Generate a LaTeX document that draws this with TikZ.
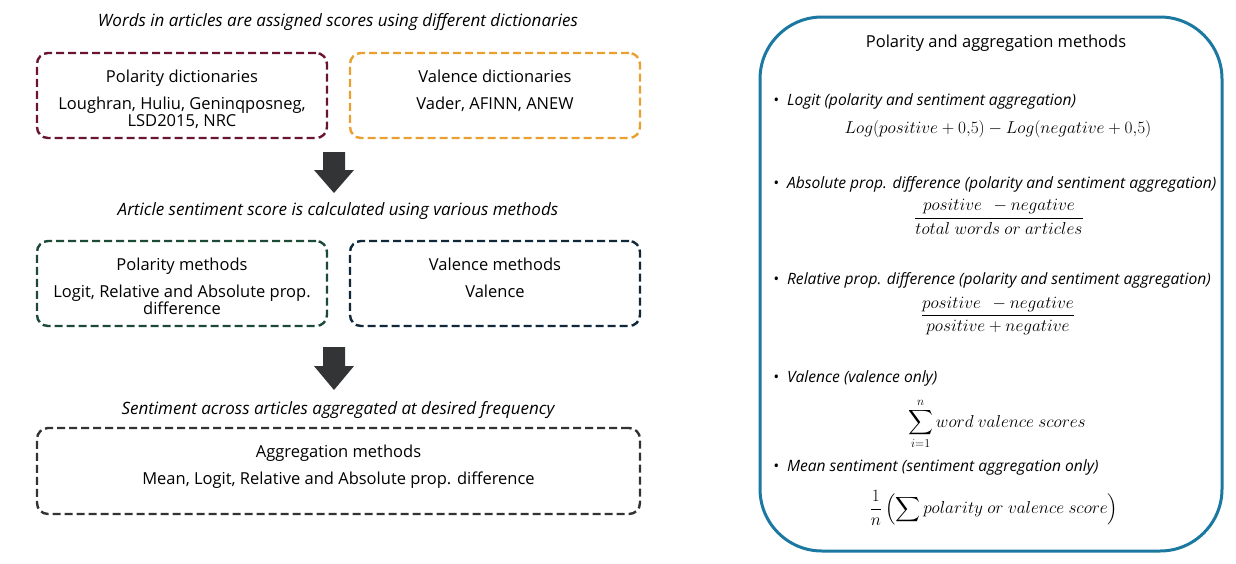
\documentclass[tikz,border=0pt]{standalone}
\usepackage{amsmath}
\usepackage{fontspec}
\setmainfont{Open Sans}
\usetikzlibrary{positioning}

\definecolor{poldict}{HTML}{6A1434}
\definecolor{valdict}{HTML}{E9A030}
\definecolor{polmeth}{HTML}{1C4A36}
\definecolor{valmeth}{HTML}{10283A}
\definecolor{aggmeth}{HTML}{333333}
\definecolor{sidecol}{HTML}{1B78A0}
\definecolor{arrowcol}{HTML}{333436}

\tikzset{
  dashbox/.style={draw, line width=2.4pt, dash pattern=on 8pt off 4pt, rounded corners=11pt,
    minimum height=85pt, inner sep=0pt},
  boxtext/.style={align=center, inner sep=0pt, font=\fontsize{16.5}{17.5}\selectfont},
  steptitle/.style={font=\fontsize{17}{19}\selectfont\itshape, inner sep=0pt},
  itemtext/.style={anchor=west, font=\fontsize{15.6}{18}\selectfont\itshape, inner sep=0pt},
  formula/.style={inner sep=0pt, font=\fontsize{17}{20}\selectfont},
}

\begin{document}
\begin{tikzpicture}[x=1pt, y=-1pt]
    \useasboundingbox (0,0) rectangle (1236,563);

    % left column
    \node[steptitle] (title1) at (338,22) {Words in articles are assigned scores using different dictionaries};

    \node[dashbox, draw=poldict, minimum width=290pt] (pdict) at (182,95.5) {};
    \node[dashbox, draw=valdict, minimum width=290pt] (vdict) at (495,95.5) {};
    \node[boxtext, below=18pt of pdict.north] {Polarity dictionaries\\[9pt] Loughran, Huliu, Geninqposneg,\\ LSD2015, NRC};
    \node[boxtext, below=18pt of vdict.north] {Valence dictionaries\\[9pt] Vader, AFINN, ANEW};

    \coordinate (arr1) at (334,152);
    \fill[arrowcol] (arr1) ++(-11,0) -- ++(22,0) -- ++(0,18) -- ++(9,0) -- (334,193) -- (314,170) -- ++(9,0) -- cycle;

    \node[steptitle] (title2) at (338,211) {Article sentiment score is calculated using various methods};

    \node[dashbox, draw=polmeth, minimum width=290pt] (pmeth) at (182,283.5) {};
    \node[dashbox, draw=valmeth, minimum width=290pt] (vmeth) at (495,283.5) {};
    \node[boxtext, below=18pt of pmeth.north] {Polarity methods\\[9pt] Logit, Relative and Absolute prop.\\ difference};
    \node[boxtext, below=18pt of vmeth.north] {Valence methods\\[9pt] Valence};

    \coordinate (arr2) at (334,347);
    \fill[arrowcol] (arr2) ++(-11,0) -- ++(22,0) -- ++(0,19) -- ++(9,0) -- (334,390) -- (314,366) -- ++(9,0) -- cycle;

    \node[steptitle] (title3) at (338,410) {Sentiment across articles aggregated at desired frequency};

    \node[dashbox, draw=aggmeth, minimum width=603pt, minimum height=86pt] (agg) at (338.5,471) {};
    \node[boxtext, below=18pt of agg.north] {Aggregation methods\\[9pt] Mean, Logit, Relative and Absolute prop. difference};

    % right panel
    \draw[sidecol, line width=3pt, rounded corners=62pt] (760,17) rectangle (1222,551);
    \node[boxtext] (sidetitle) at (996,43) {Polarity and aggregation methods};

    \node[itemtext] (logit) at (773,101) {\textbullet\hspace{8pt}Logit (polarity and sentiment aggregation)};
    \node[formula] (flogit) at (998,129) {$Log(positive+0{,}5)-Log(negative+0{,}5)$};

    \node[itemtext] (absd) at (773,184) {\textbullet\hspace{8pt}Absolute prop. difference (polarity and sentiment aggregation)};
    \node[formula] (fabsd) at (999,217) {$\dfrac{positive\;\,-negative}{total\ words\ or\ articles}$};

    \node[itemtext] (reld) at (773,280) {\textbullet\hspace{8pt}Relative prop. difference (polarity and sentiment aggregation)};
    \node[formula] (freld) at (998,316) {$\dfrac{positive\;\,-negative}{positive+negative}$};

    \node[itemtext] (val) at (773,378) {\textbullet\hspace{8pt}Valence (valence only)};
    \node[formula] (fval) at (997,424) {$\displaystyle\sum_{i=1}^{n}word\ valence\ scores$};

    \node[itemtext] (mean) at (773,467) {\textbullet\hspace{8pt}Mean sentiment (sentiment aggregation only)};
    \node[formula] (fmean) at (994,508) {$\dfrac{1}{n}\left(\displaystyle\sum polarity\ or\ valence\ score\right)$};
\end{tikzpicture}
\end{document}
